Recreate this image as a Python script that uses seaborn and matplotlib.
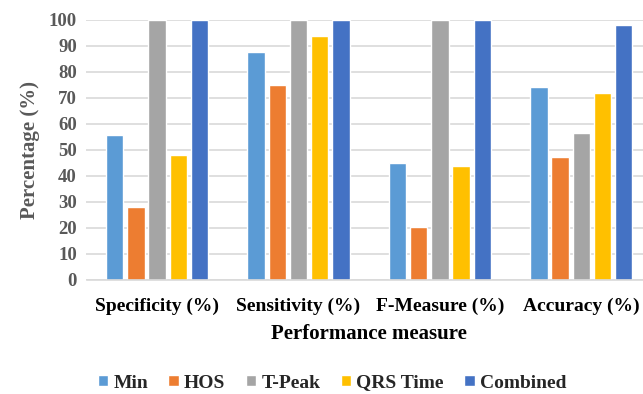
import matplotlib
matplotlib.use("Agg")
import matplotlib.pyplot as plt
import seaborn as sns
import pandas as pd

categories = ["Specificity (%)", "Sensitivity (%)", "F-Measure (%)", "Accuracy (%)"]
series = ["Min", "HOS", "T-Peak", "QRS Time", "Combined"]
min_vals = [55.8, 87.6, 45.1, 74.4]
hos_vals = [28.2, 74.9, 20.5, 47.3]
tpeak_vals = [100, 100, 100, 56.5]
qrs_vals = [48.1, 94.0, 43.8, 71.8]
combined_vals = [100, 100, 100, 98.2]
colors = ["#5B9BD5", "#ED7D31", "#A5A5A5", "#FFC000", "#4472C4"]
yticks = list(range(0, 101, 10))

values = [min_vals, hos_vals, tpeak_vals, qrs_vals, combined_vals]
rows = []
for s, vals in zip(series, values):
    for c, v in zip(categories, vals):
        rows.append({"Measure": c, "Method": s, "Value": v})
df = pd.DataFrame(rows)

sns.set_style("white")
plt.rcParams["font.family"] = ["Liberation Serif", "DejaVu Serif"]
plt.rcParams["font.weight"] = "bold"

fig = plt.figure(figsize=(6.43, 3.94), dpi=100)
ax = fig.add_axes([86.5 / 643, 1 - 280 / 394, (652 - 86.5) / 643, 260 / 394])
sns.barplot(data=df, x="Measure", y="Value", hue="Method", order=categories,
            hue_order=series, palette=colors, width=0.75, gap=0.18,
            saturation=1, ax=ax, legend=True)

ax.set_ylim(0, 100)
ax.set_yticks(yticks)
ax.set_yticklabels([str(t) for t in yticks], fontsize=13.5, fontweight="bold", color="#595959")
ax.tick_params(axis="y", length=0, pad=7)
ax.tick_params(axis="x", length=0, pad=13, labelsize=14, labelcolor="black")
for lab in ax.get_xticklabels():
    lab.set_fontweight("bold")
ax.yaxis.grid(True, color="#D9D9D9", linewidth=1.2)
ax.set_axisbelow(True)
for s in ["top", "right", "left"]:
    ax.spines[s].set_visible(False)
ax.spines["bottom"].set_color("#D9D9D9")
ax.spines["bottom"].set_linewidth(1.2)

ax.set_xlabel("Performance measure", fontsize=15, fontweight="bold", color="black", labelpad=6)
ax.set_ylabel("Percentage (%)", fontsize=15, fontweight="bold", color="#595959", labelpad=6)

ax.legend_.remove()
handles, labels = ax.get_legend_handles_labels()
fig.legend(handles, labels, loc="center", bbox_to_anchor=(332 / 643, 1 - 383 / 394),
           ncol=5, frameon=False, prop={"family": "Liberation Serif", "weight": "bold", "size": 14},
           handlelength=0.55, handleheight=0.55, handletextpad=0.25, columnspacing=1.05)

fig.savefig("out.png", dpi=100)
